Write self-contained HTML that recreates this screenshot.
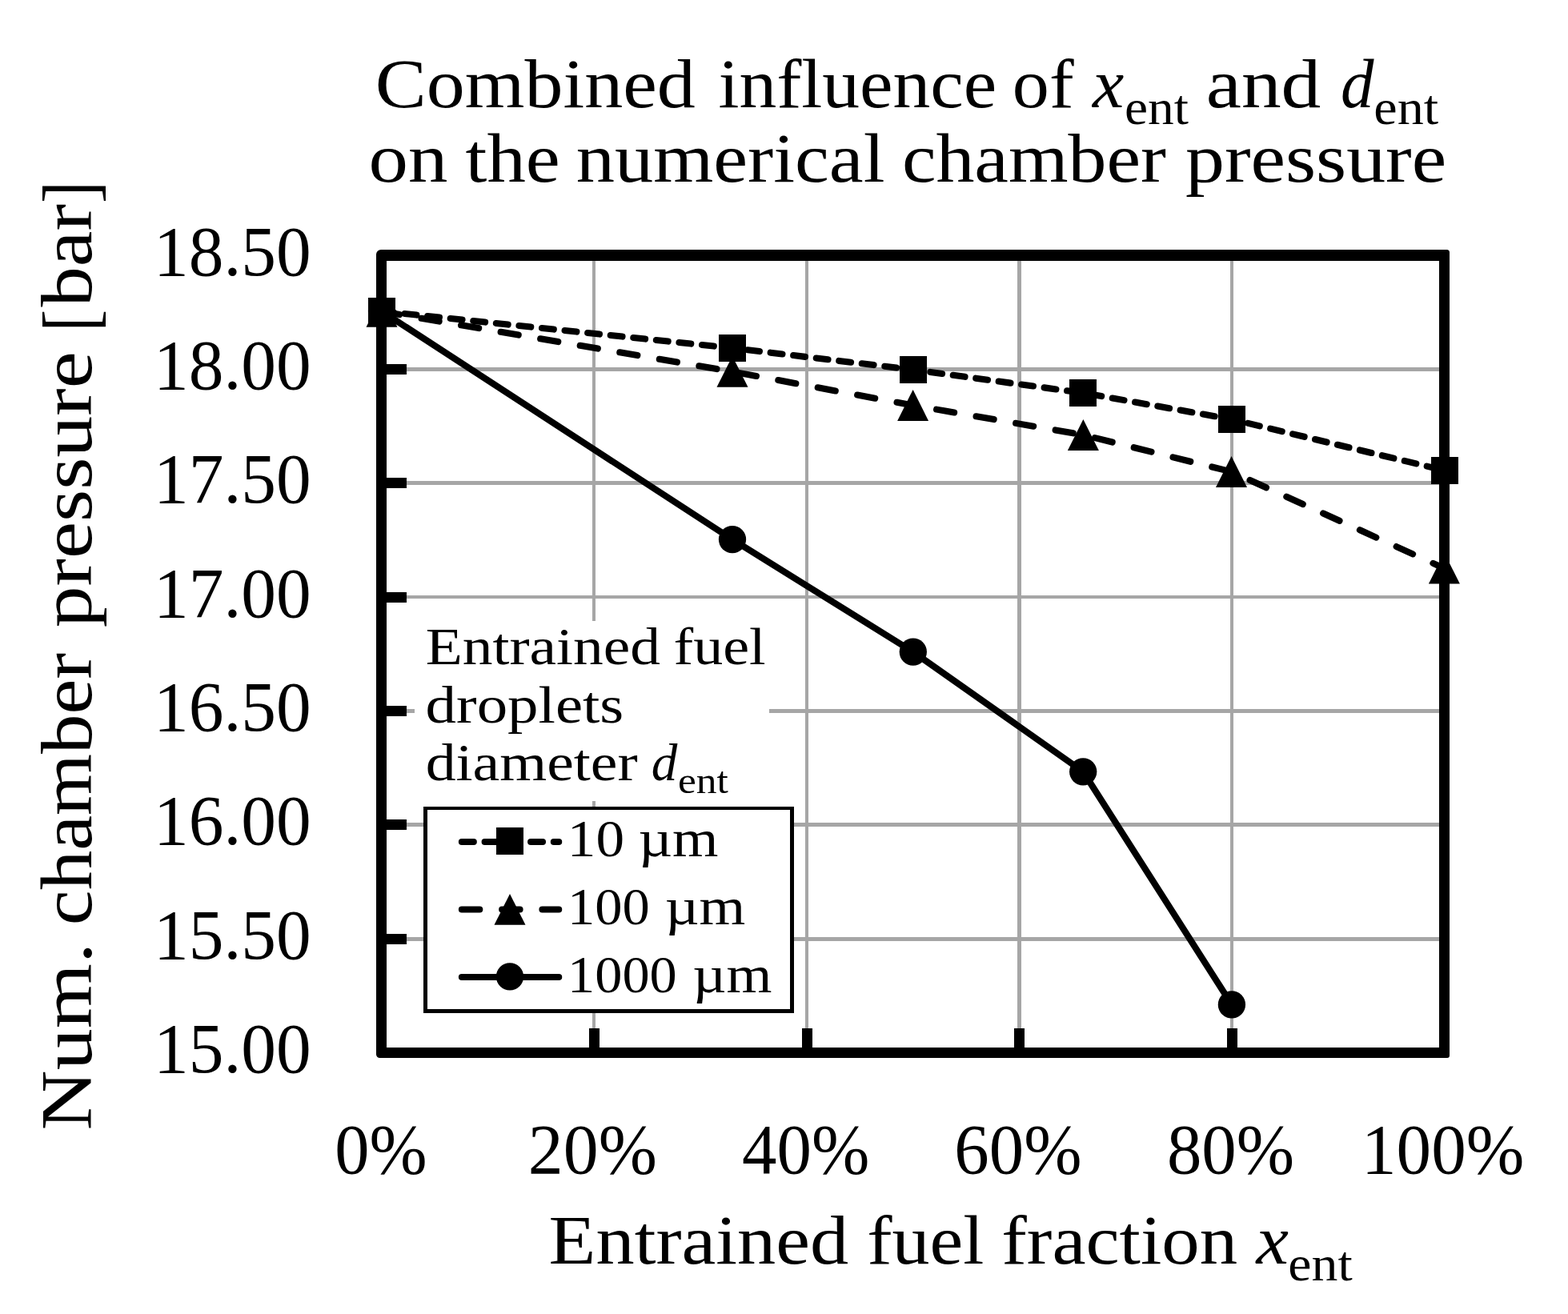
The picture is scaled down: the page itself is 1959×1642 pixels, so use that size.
<!DOCTYPE html>
<html lang="en">
<head>
<meta charset="utf-8">
<title>Combined influence of x ent and d ent on the numerical chamber pressure</title>
<style>
html,body{margin:0;padding:0;background:#fff;}
body{width:1959px;height:1642px;overflow:hidden;}
svg{display:block;}
text{font-family:"Liberation Serif","DejaVu Serif",serif;fill:#000;}
.i{font-style:italic;}
</style>
</head>
<body>
<svg width="1959" height="1642" viewBox="0 0 1959 1642">
<rect width="1959" height="1642" fill="#fff"/>
<path d="M740 326H744V1309H740zM1006 326H1010V1309H1006zM1271 326H1276V1309H1271zM1537 326H1541V1309H1537zM483 459H1798V464H483zM483 601H1798V606H483zM483 744H1798V748H483zM483 886H1798V891H483zM483 1028H1798V1033H483zM483 1171H1798V1176H483z" fill="#a6a6a6"/>
<path d="M736 1285h13V1309h-13zM1002 1285h13V1309h-13zM1267 1285h13V1309h-13zM1533 1285h13V1309h-13zM483 455H508v13H483zM483 597H508v13H483zM483 740H508v13H483zM483 882H508v13H483zM483 1024H508v13H483zM483 1167H508v13H483z" fill="#000"/>
<rect x="518" y="776" width="443" height="225" fill="#fff"/>
<g fill="none" stroke="#000" stroke-width="8.1" stroke-linecap="round" stroke-linejoin="round">
<path d="M477 389L915 674.1L1140.8 814.6L1353.2 964.3L1538.9 1255.4"/>
<path d="M477 389.3L915 464.4L1140.6 506.5L1353.4 543.5L1538.5 589.5L1804.4 710.2" stroke-dasharray="22.4 27.87"/>
<path d="M477 389L915 435L1141 462L1353 491L1539 524L1805 588" stroke-dasharray="14.9 13.83"/>
</g>
<path fill="#000" fill-rule="evenodd" d="M476 312H1807.5a3.5 3.5 0 0 1 3.5 3.5V1319a3 3 0 0 1 -3 3H474.5a4.5 4.5 0 0 1 -4.5 -4.5V318a6 6 0 0 1 6 -6zM483 326V1309H1798V326z"/>
<g fill="#000">
<circle cx="477" cy="389" r="17.15"/>
<circle cx="915" cy="674.1" r="17.15"/>
<circle cx="1140.8" cy="814.6" r="17.15"/>
<circle cx="1353.2" cy="964.3" r="17.15"/>
<circle cx="1538.9" cy="1255.4" r="17.15"/>
<path d="M477 369.9L496.5 408.7H457.5Z"/>
<path d="M915 445L934.5 483.8H895.5Z"/>
<path d="M1140.6 487.1L1160.1 525.9H1121.1Z"/>
<path d="M1353.4 524.1L1372.9 562.9H1333.9Z"/>
<path d="M1538.5 570.1L1558 608.9H1519Z"/>
<path d="M1804.4 690.8L1823.9 729.6H1784.9Z"/>
<rect x="460" y="372" width="34" height="34"/>
<rect x="898" y="418" width="34" height="34"/>
<rect x="1124" y="445" width="34" height="34"/>
<rect x="1336" y="474" width="34" height="34"/>
<rect x="1522" y="507" width="34" height="34"/>
<rect x="1788" y="571" width="34" height="34"/>
</g>
<rect x="529" y="1008" width="463" height="258" fill="#fff"/>
<path fill="#000" fill-rule="evenodd" d="M529 1008H992V1266H529zM534 1012V1261H987V1012z"/>
<g fill="none" stroke="#000" stroke-width="8.1" stroke-linecap="round">
<path d="M576.9 1052H698.2" stroke-dasharray="14.9 13.83"/>
<path d="M576.9 1136.5H698.2" stroke-dasharray="22.4 27.87"/>
<path d="M576.9 1221H698.2"/>
</g>
<g fill="#000"><rect x="620" y="1034" width="34" height="34"/><path d="M637 1117L656.5 1155.8H617.5Z"/><circle cx="637" cy="1220.4" r="17.15"/></g>
<text><tspan x="468.82" y="134.3" font-size="86.5" textLength="399.97" lengthAdjust="spacingAndGlyphs">Combined</tspan> <tspan x="897.51" y="134.3" font-size="86.5" textLength="347.8" lengthAdjust="spacingAndGlyphs">influence</tspan> <tspan x="1264.84" y="134.3" font-size="86.5" textLength="76.73" lengthAdjust="spacingAndGlyphs">of</tspan> <tspan class="i" x="1365.02" y="134.3" font-size="86.5" textLength="39.25" lengthAdjust="spacingAndGlyphs">x</tspan><tspan x="1404.97" y="154.6" font-size="60.5" textLength="79.99" lengthAdjust="spacingAndGlyphs">ent</tspan> <tspan x="1506.85" y="134.3" font-size="86.5" textLength="143.47" lengthAdjust="spacingAndGlyphs">and</tspan> <tspan class="i" x="1675.1" y="134.3" font-size="86.5" textLength="41.46" lengthAdjust="spacingAndGlyphs">d</tspan><tspan x="1716.34" y="154.6" font-size="60.5" textLength="80.82" lengthAdjust="spacingAndGlyphs">ent</tspan></text>
<text><tspan x="460.49" y="227" font-size="86.5" textLength="98.84" lengthAdjust="spacingAndGlyphs">on</tspan> <tspan x="581.56" y="227" font-size="86.5" textLength="118.22" lengthAdjust="spacingAndGlyphs">the</tspan> <tspan x="719.77" y="227" font-size="86.5" textLength="385.69" lengthAdjust="spacingAndGlyphs">numerical</tspan> <tspan x="1126.9" y="227" font-size="86.5" textLength="329.97" lengthAdjust="spacingAndGlyphs">chamber</tspan> <tspan x="1481" y="227" font-size="86.5" textLength="326.17" lengthAdjust="spacingAndGlyphs">pressure</tspan></text>
<text><tspan x="192" y="343.7" font-size="89.7" textLength="196.71" lengthAdjust="spacingAndGlyphs">18.50</tspan></text>
<text><tspan x="192" y="486.03" font-size="89.7" textLength="196.71" lengthAdjust="spacingAndGlyphs">18.00</tspan></text>
<text><tspan x="192" y="628.36" font-size="89.7" textLength="196.71" lengthAdjust="spacingAndGlyphs">17.50</tspan></text>
<text><tspan x="192" y="770.69" font-size="89.7" textLength="196.71" lengthAdjust="spacingAndGlyphs">17.00</tspan></text>
<text><tspan x="192" y="913.01" font-size="89.7" textLength="196.71" lengthAdjust="spacingAndGlyphs">16.50</tspan></text>
<text><tspan x="192" y="1055.34" font-size="89.7" textLength="196.71" lengthAdjust="spacingAndGlyphs">16.00</tspan></text>
<text><tspan x="192" y="1197.67" font-size="89.7" textLength="196.71" lengthAdjust="spacingAndGlyphs">15.50</tspan></text>
<text><tspan x="192" y="1340" font-size="89.7" textLength="196.71" lengthAdjust="spacingAndGlyphs">15.00</tspan></text>
<text><tspan x="418.32" y="1466.2" font-size="89.7" textLength="115.33" lengthAdjust="spacingAndGlyphs">0%</tspan></text>
<text><tspan x="659.78" y="1466.2" font-size="89.7" textLength="161.11" lengthAdjust="spacingAndGlyphs">20%</tspan></text>
<text><tspan x="927.1" y="1466.2" font-size="89.7" textLength="159.25" lengthAdjust="spacingAndGlyphs">40%</tspan></text>
<text><tspan x="1192.37" y="1466.2" font-size="89.7" textLength="159.08" lengthAdjust="spacingAndGlyphs">60%</tspan></text>
<text><tspan x="1457.91" y="1466.2" font-size="89.7" textLength="159.04" lengthAdjust="spacingAndGlyphs">80%</tspan></text>
<text><tspan x="1701.03" y="1466.2" font-size="89.7" textLength="203.29" lengthAdjust="spacingAndGlyphs">100%</tspan></text>
<text><tspan x="685.62" y="1578.7" font-size="86.5" textLength="374.5" lengthAdjust="spacingAndGlyphs">Entrained</tspan> <tspan x="1083.31" y="1578.7" font-size="86.5" textLength="146.07" lengthAdjust="spacingAndGlyphs">fuel</tspan> <tspan x="1251.29" y="1578.7" font-size="86.5" textLength="294.75" lengthAdjust="spacingAndGlyphs">fraction</tspan> <tspan class="i" x="1569.55" y="1578.7" font-size="86.5" textLength="40.44" lengthAdjust="spacingAndGlyphs">x</tspan><tspan x="1609.36" y="1599.5" font-size="60.5" textLength="80.3" lengthAdjust="spacingAndGlyphs">ent</tspan></text>
<text transform="translate(114.3 1642) rotate(-90)"><tspan x="229.52" y="0" font-size="90.5" textLength="234.44" lengthAdjust="spacingAndGlyphs">Num.</tspan> <tspan x="485.88" y="0" font-size="90.5" textLength="340.39" lengthAdjust="spacingAndGlyphs">chamber</tspan> <tspan x="857.78" y="0" font-size="90.5" textLength="345.02" lengthAdjust="spacingAndGlyphs">pressure</tspan> <tspan x="1227.44" y="5" font-size="96" textLength="27.66" lengthAdjust="spacingAndGlyphs">[</tspan><tspan x="1258.5" y="0" font-size="90.5" textLength="128.5" lengthAdjust="spacingAndGlyphs">bar</tspan><tspan x="1387.89" y="5" font-size="96" textLength="27.53" lengthAdjust="spacingAndGlyphs">]</tspan></text>
<text><tspan x="531.73" y="830" font-size="66.5" textLength="293.22" lengthAdjust="spacingAndGlyphs">Entrained</tspan> <tspan x="841.47" y="830" font-size="66.5" textLength="115.18" lengthAdjust="spacingAndGlyphs">fuel</tspan></text>
<text><tspan x="531.61" y="902.6" font-size="66.5" textLength="247.68" lengthAdjust="spacingAndGlyphs">droplets</tspan></text>
<text><tspan x="531.65" y="975.4" font-size="66.5" textLength="265.06" lengthAdjust="spacingAndGlyphs">diameter</tspan> <tspan class="i" x="813.74" y="975.4" font-size="66.5" textLength="32.56" lengthAdjust="spacingAndGlyphs">d</tspan><tspan x="846.96" y="990.7" font-size="46.5" textLength="62.99" lengthAdjust="spacingAndGlyphs">ent</tspan></text>
<text><tspan x="708.84" y="1070.4" font-size="66.5" textLength="71.24" lengthAdjust="spacingAndGlyphs">10</tspan> <tspan x="797.5" y="1070.4" font-size="66.5" textLength="99.96" lengthAdjust="spacingAndGlyphs">µm</tspan></text>
<text><tspan x="709.07" y="1155.1" font-size="66.5" textLength="102.8" lengthAdjust="spacingAndGlyphs">100</tspan> <tspan x="830.69" y="1155.1" font-size="66.5" textLength="100.48" lengthAdjust="spacingAndGlyphs">µm</tspan></text>
<text><tspan x="709.09" y="1240" font-size="66.5" textLength="136.68" lengthAdjust="spacingAndGlyphs">1000</tspan> <tspan x="865.22" y="1240" font-size="66.5" textLength="99.13" lengthAdjust="spacingAndGlyphs">µm</tspan></text>
</svg>
</body>
</html>
